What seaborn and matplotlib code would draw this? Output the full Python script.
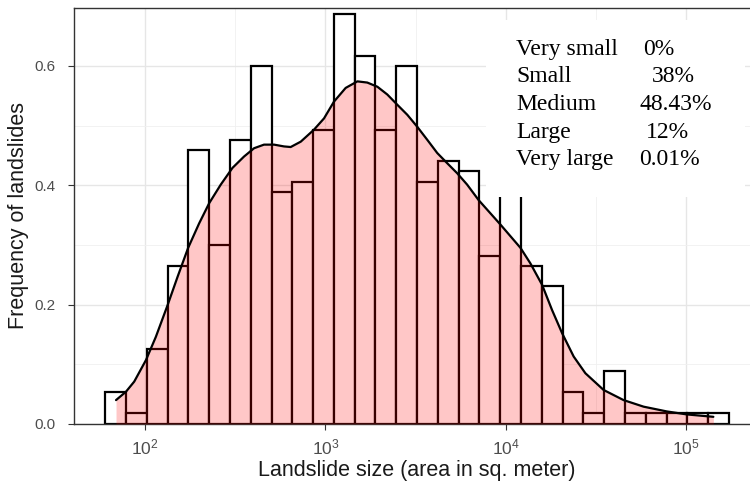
import numpy as np
import matplotlib.pyplot as plt
import seaborn as sns
from matplotlib.patches import Rectangle

plt.switch_backend('Agg')

# Histogram bar heights (density per log10 unit), 30 equal bins in log space
bin_heights = [0.054, 0.018, 0.125, 0.265, 0.459, 0.300, 0.475, 0.599, 0.389, 0.405,
               0.493, 0.687, 0.617, 0.493, 0.599, 0.405, 0.441, 0.423, 0.282, 0.450,
               0.265, 0.231, 0.054, 0.018, 0.089, 0.018, 0.018, 0.018, 0.018, 0.018]
bin_range = (1.778, 5.238)  # log10 of the outer bin edges

# Density curve (log10 of area, density)
kde_log_area = [1.838, 1.893, 1.939, 2.004, 2.059, 2.124, 2.180, 2.238, 2.299, 2.355,
                2.419, 2.484, 2.548, 2.604, 2.659, 2.715, 2.770, 2.807, 2.863, 2.936,
                2.992, 3.047, 3.112, 3.177, 3.232, 3.288, 3.343, 3.398, 3.454, 3.509,
                3.565, 3.620, 3.675, 3.731, 3.786, 3.850, 3.971, 4.082, 4.137, 4.202,
                4.257, 4.313, 4.377, 4.442, 4.543, 4.654, 4.765, 4.894, 5.005, 5.152]
kde_density = [0.040, 0.054, 0.071, 0.107, 0.146, 0.199, 0.247, 0.295, 0.336, 0.370,
               0.401, 0.429, 0.448, 0.462, 0.468, 0.468, 0.465, 0.464, 0.473, 0.493,
               0.512, 0.540, 0.563, 0.574, 0.572, 0.565, 0.552, 0.535, 0.518, 0.498,
               0.476, 0.454, 0.437, 0.420, 0.401, 0.375, 0.334, 0.295, 0.269, 0.233,
               0.191, 0.152, 0.113, 0.085, 0.057, 0.040, 0.029, 0.021, 0.016, 0.012]

size_classes = ['Very small', 'Small', 'Medium', 'Large', 'Very large']
size_shares = ['0%', '38%', '48.43%', '12%', '0.01%']

sns.set_style('white')
plt.rcParams['font.family'] = ['Liberation Sans', 'DejaVu Sans']

fig = plt.figure(figsize=(7.5, 4.91), dpi=100)
ax = fig.add_axes([0.0987, 0.1365, 0.9147, 0.8473])

n_bins = len(bin_heights)
step = (bin_range[1] - bin_range[0]) / n_bins
centres = 10 ** (bin_range[0] + step * (np.arange(n_bins) + 0.5))

# white bars with black outline
sns.histplot(x=centres, weights=bin_heights, bins=n_bins, binrange=bin_range,
             log_scale=True, stat='count', color='white', edgecolor='black',
             linewidth=1.6, alpha=1, ax=ax, zorder=2)

# pink density area on top
kde_x = 10 ** np.array(kde_log_area)
ax.fill_between(kde_x, kde_density, color='red', alpha=0.22, linewidth=0, zorder=3)
sns.lineplot(x=kde_x, y=kde_density, color='black', linewidth=1.6, ax=ax, zorder=4)

ax.set_xlim(10 ** 1.605, 10 ** 5.411)
ax.set_ylim(0, 0.697)

ax.set_xticks([1e2, 1e3, 1e4, 1e5])
ax.set_xticks([10 ** 2.5, 10 ** 3.5, 10 ** 4.5], minor=True)
ax.set_yticks([0.0, 0.2, 0.4, 0.6])
ax.set_yticklabels(['0.0', '0.2', '0.4', '0.6'])
ax.set_yticks([0.1, 0.3, 0.5], minor=True)

ax.grid(which='major', color='#E6E6E6', linewidth=1.0)
ax.grid(which='minor', color='#F0F0F0', linewidth=0.6)
ax.set_axisbelow(True)

ax.tick_params(axis='both', which='major', length=4.5, width=0.8, color='#333333',
               labelcolor='#4D4D4D', labelsize=11, bottom=True, left=True)
ax.tick_params(axis='x', which='major', pad=5, labelsize=12.5)
ax.tick_params(axis='y', which='major', pad=9)
ax.tick_params(axis='both', which='minor', length=0)
for sp in ax.spines.values():
    sp.set_color('#333333')
    sp.set_linewidth(1.0)

ax.set_xlabel('Landslide size (area in sq. meter)', fontsize=15.5, color='#1A1A1A', labelpad=2)
ax.set_ylabel('Frequency of landslides', fontsize=15.5, color='#1A1A1A', labelpad=4)

# white label box in the upper right
ax.add_patch(Rectangle((0.600, 0.546), 0.378, 0.425, transform=ax.transAxes,
                       facecolor='white', edgecolor='none', zorder=6))

value_x = [643, 652, 639, 646, 639]
for i, (name, share) in enumerate(zip(size_classes, size_shares)):
    y = 1 - (55 + 27.5 * i) / 491
    fig.text(516 / 750, y, name, family='Liberation Serif', fontsize=17,
             color='black', va='baseline', zorder=10)
    fig.text(value_x[i] / 750, y, share, family='Liberation Serif', fontsize=17,
             color='black', va='baseline', zorder=10)

fig.savefig('out.png', dpi=100)
plt.close(fig)
